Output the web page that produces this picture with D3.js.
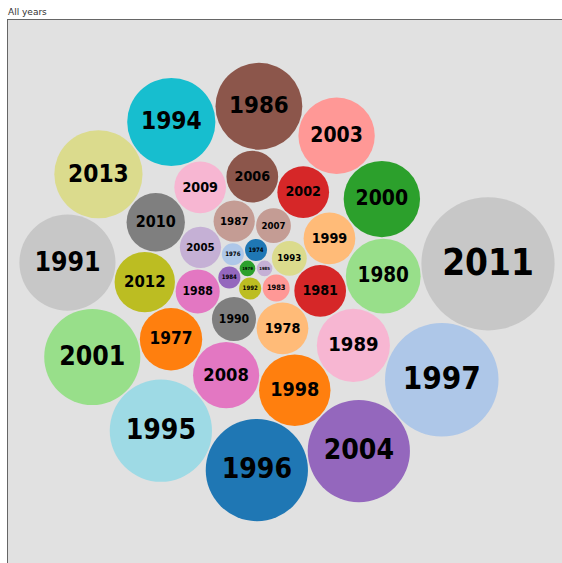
<!DOCTYPE html>
<html>
<head>
<meta charset="utf-8">
<script src="https://cdnjs.cloudflare.com/ajax/libs/d3/7.8.5/d3.min.js"></script>
<style>
body { margin: 0; background: #fff; }
</style>
</head>
<body>
<script>
// years in the order the source lists them
var years = [1974, 1976, 1977, 1978, 1979, 1980, 1981, 1983, 1984, 1985,
             1986, 1987, 1988, 1989, 1990, 1991, 1992, 1993, 1994, 1995,
             1996, 1997, 1998, 1999, 2000, 2001, 2002, 2003, 2004, 2005,
             2006, 2007, 2008, 2009, 2010, 2011, 2012, 2013];
// counts per year
var counts = [2, 2, 16, 11, 1, 23, 11, 3, 2, 1,
              31, 7, 8, 22, 8, 38, 2, 5, 32, 43,
              43, 53, 21, 11, 24, 38, 11, 24, 43, 7,
              11, 5, 18, 11, 14, 73, 15, 32];
var category20 = ["#1f77b4", "#aec7e8", "#ff7f0e", "#ffbb78", "#2ca02c", "#98df8a",
                  "#d62728", "#ff9896", "#9467bd", "#c5b0d5", "#8c564b", "#c49c94",
                  "#e377c2", "#f7b6d2", "#7f7f7f", "#c7c7c7", "#bcbd22", "#dbdb8d",
                  "#17becf", "#9edae5"];

var width = 562, height = 563;
var pad = 1.5;
var center = {x: 287, y: 292};

var rScale = d3.scaleSqrt().domain([0, d3.max(counts)]).range([0, 66.6]);
var color = d3.scaleOrdinal().domain(years).range(category20);

var nodes = years.map(function(y, i) {
  return {year: y, count: counts[i], r: rScale(counts[i]) + pad / 2};
});
// ascending by count, ties keep year order
nodes.sort(function(a, b) { return a.count - b.count; });

// old style sibling packing (spiral front chain)
function place(a, b, c) {
  var db = a.r + c.r, dx = b.x - a.x, dy = b.y - a.y;
  if (db && (dx || dy)) {
    var da = b.r + c.r, dc = dx * dx + dy * dy;
    da *= da; db *= db;
    var x = .5 + (db - da) / (2 * dc),
        y = Math.sqrt(Math.max(0, 2 * da * (db + dc) - (db -= dc) * db - da * da)) / (2 * dc);
    c.x = a.x + x * dx + y * dy;
    c.y = a.y + x * dy - y * dx;
  } else {
    c.x = a.x + db; c.y = a.y;
  }
}
function hits(a, b) {
  var dx = b.x - a.x, dy = b.y - a.y, dr = a.r + b.r;
  return .999 * dr * dr > dx * dx + dy * dy;
}
function insert(a, b) {
  var c = a.next; a.next = b; b.prev = a; b.next = c; c.prev = b;
}
function splice(a, b) { a.next = b; b.prev = a; }

function packSpiral(list) {
  var n = list.length, a, b, c, i, j, k;
  var x0 = Infinity, x1 = -Infinity, y0 = Infinity, y1 = -Infinity;
  function bound(d) {
    x0 = Math.min(d.x - d.r, x0); x1 = Math.max(d.x + d.r, x1);
    y0 = Math.min(d.y - d.r, y0); y1 = Math.max(d.y + d.r, y1);
  }
  list.forEach(function(d) { d.next = d.prev = d; });
  a = list[0]; a.x = -a.r; a.y = 0; bound(a);
  b = list[1]; b.x = b.r; b.y = 0; bound(b);
  c = list[2]; place(a, b, c); bound(c);
  insert(a, c); a.prev = c; insert(c, b); b = a.next;
  for (i = 3; i < n; i++) {
    place(a, b, c = list[i]);
    var isect = 0, s1 = 1, s2 = 1;
    for (j = b.next; j !== b; j = j.next, s1++) {
      if (hits(j, c)) { isect = 1; break; }
    }
    if (isect) {
      for (k = a.prev; k !== j.prev; k = k.prev, s2++) {
        if (hits(k, c)) break;
      }
      if (s1 < s2 || (s1 == s2 && b.r < a.r)) splice(a, b = j);
      else splice(a = k, b);
      i--;
    } else {
      insert(a, c); b = c; bound(c);
    }
  }
  var cx = (x0 + x1) / 2, cy = (y0 + y1) / 2;
  list.forEach(function(d) { d.x -= cx; d.y -= cy; d.r -= pad / 2; });
}
packSpiral(nodes);

var svg = d3.select("body").append("svg")
  .attr("width", width)
  .attr("height", height);

svg.append("text")
  .attr("x", 8)
  .attr("y", 15)
  .style("font-family", "DejaVu Sans, Verdana, sans-serif")
  .style("font-size", "9px")
  .style("fill", "#333")
  .text("All years");

svg.append("rect")
  .attr("x", 7.5)
  .attr("y", 19.5)
  .attr("width", 620)
  .attr("height", 620)
  .style("fill", "#e1e1e1")
  .style("stroke", "#666")
  .style("stroke-width", 1);

var g = svg.append("g")
  .attr("transform", "translate(" + center.x + "," + center.y + ")");

var bubble = g.selectAll("g.bubble")
  .data(nodes)
  .enter()
  .append("g")
  .attr("class", "bubble")
  .attr("transform", function(d) { return "translate(" + d.x + "," + d.y + ")"; });

bubble.append("circle")
  .attr("r", function(d) { return d.r; })
  .style("fill", function(d) { return color(d.year); });

bubble.append("text")
  .attr("text-anchor", "middle")
  .attr("dy", "0.3em")
  .style("font-family", "DejaVu Sans, Verdana, sans-serif")
  .style("font-stretch", "condensed")
  .style("font-weight", "bold")
  .style("font-size", function(d) { return (d.r * 0.55) + "px"; })
  .style("fill", "#000")
  .text(function(d) { return d.year; });
</script>
</body>
</html>
